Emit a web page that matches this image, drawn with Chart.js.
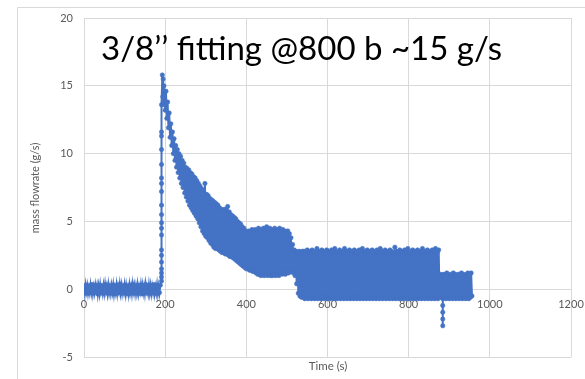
<!DOCTYPE html>
<html>
<head>
<meta charset="utf-8">
<script src="https://cdn.jsdelivr.net/npm/chart.js@4/dist/chart.umd.min.js"></script>
<style>
html,body{margin:0;padding:0;background:#fff;}
#wrap{position:relative;width:585px;height:379px;}
</style>
</head>
<body>
<div id="wrap"><canvas id="c" width="585" height="379"></canvas></div>
<script>
const chartTitle = "3/8\u2019\u2019 fitting @800 b ~15 g/s";
const xTitle = "Time (s)";
const yTitle = "mass flowrate (g/s)";
const xTicks = [0, 200, 400, 600, 800, 1000, 1200];
const yTicks = [-5, 0, 5, 10, 15, 20];

// time (s)
const timeValues = [
  0,2,4,6,8,10,12,14,16,18,
  20,22,24,26,28,30,32,34,36,38,
  40,42,44,46,48,50,52,54,56,58,
  60,62,64,66,68,70,72,74,76,78,
  80,82,84,86,88,90,92,94,96,98,
  100,102,104,106,108,110,112,114,116,118,
  120,122,124,126,128,130,132,134,136,138,
  140,142,144,146,148,150,152,154,156,158,
  160,162,164,166,168,170,172,174,176,178,
  180,182,184,186,188,
  191,191,191,191,191,191,191,191,191,191,191,191,191,191,191,191,191,191,191,191,
  193,194,195,196,197,198,199,200,
  202,204,206,208,210,212,214,216,218,220,
  222,224,226,228,230,232,234,236,238,240,
  242,244,246,248,250,252,254,256,258,260,
  262,264,266,268,270,272,274,276,278,280,
  282,284,286,288,290,292,294,296,298,300,
  302,304,306,308,310,312,314,316,318,320,
  322,324,326,328,330,332,334,336,338,340,
  342,344,346,348,350,352,354,356,358,360,
  362,364,366,368,370,372,374,376,378,380,
  382,384,386,388,390,392,394,396,398,400,
  402,404,406,408,410,412,414,416,418,420,
  422,424,426,428,430,432,434,436,438,440,
  442,444,446,448,450,452,454,456,458,460,
  462,464,466,468,470,472,474,476,478,480,
  482,484,486,488,490,492,494,496,498,500,
  502,504,506,508,510,512,514,516,518,520,
  522,524,526,528,530,532,534,536,538,540,
  542,544,546,548,550,552,554,556,558,560,
  562,564,566,568,570,572,574,576,578,580,
  582,584,586,588,590,592,594,596,598,600,
  602,604,606,608,610,612,614,616,618,620,
  622,624,626,628,630,632,634,636,638,640,
  642,644,646,648,650,652,654,656,658,660,
  662,664,666,668,670,672,674,676,678,680,
  682,684,686,688,690,692,694,696,698,700,
  702,704,706,708,710,712,714,716,718,720,
  722,724,726,728,730,732,734,736,738,740,
  742,744,746,748,750,752,754,756,758,760,
  762,764,766,768,770,772,774,776,778,780,
  782,784,786,788,790,792,794,796,798,800,
  802,804,806,808,810,812,814,816,818,820,
  822,824,826,828,830,832,834,836,838,840,
  842,844,846,848,850,852,854,856,858,860,
  862,864,866,868,870,872,874,876,878,880,
  882,884,884,884,884,884,884,
  886,888,890,892,894,896,898,900,902,904,
  906,908,910,912,914,916,918,920,922,924,
  926,928,930,932,934,936,938,940,942,944,
  946,948,950,952,954,956
];

// mass flowrate (g/s)
const flowValues = [
  0.2,-0.3,0.3,-0.15,0.25,-0.3,0.1,-0.25,0.3,-0.2,
  0.35,-0.3,0.15,-0.25,0.3,-0.1,0.25,-0.35,0.2,-0.3,
  0.3,-0.2,0.1,-0.3,0.25,-0.25,0.35,-0.15,0.2,-0.3,
  0.3,-0.25,0.15,-0.3,0.25,-0.2,0.3,-0.35,0.1,-0.25,
  0.3,-0.3,0.2,-0.15,0.35,-0.25,0.25,-0.3,0.15,-0.2,
  0.3,-0.3,0.25,-0.25,0.1,-0.35,0.3,-0.2,0.2,-0.3,
  0.35,-0.15,0.25,-0.3,0.2,-0.25,0.3,-0.3,0.15,-0.2,
  0.3,-0.35,0.25,-0.25,0.2,-0.3,0.35,-0.15,0.1,-0.3,
  0.3,-0.25,0.25,-0.3,0.2,-0.2,0.35,-0.3,0.15,-0.25,
  0.3,-0.3,0.2,-0.25,0.3,
  0.6,0.9,1.2,1.5,2.0,2.5,2.9,4.0,4.5,4.9,5.5,6.2,7.2,7.8,8.2,9.2,10.3,11.3,11.6,13.6,
  15.8,14.2,15.5,13.9,15.0,13.6,14.6,13.2,
  14.6,12.6,13.8,11.9,13.0,11.2,12.2,10.6,11.6,10.0,
  11.1,9.5,10.6,9.0,10.3,8.6,10.0,8.2,9.8,7.8,
  9.5,7.5,9.3,7.1,9.0,6.8,8.9,6.5,8.8,6.2,
  8.6,6.0,8.5,5.8,8.3,5.6,8.2,5.4,8.0,5.2,
  7.8,4.9,7.6,4.6,7.4,4.3,7.3,4.1,7.8,3.9,
  7.0,3.8,6.9,3.6,6.7,3.4,6.6,3.3,6.5,3.1,
  6.4,3.0,6.3,3.0,6.2,2.9,6.0,2.8,5.9,2.7,
  5.8,2.7,5.9,2.6,5.8,2.6,6.1,2.5,5.7,2.4,
  5.5,2.4,5.4,2.3,5.3,2.2,5.2,2.1,5.0,2.0,
  4.9,1.9,4.8,1.8,4.6,1.7,4.5,1.6,4.3,1.5,
  4.2,1.5,4.3,1.4,4.2,1.4,4.4,1.3,4.3,1.3,
  4.4,1.2,4.3,1.1,4.5,1.1,4.4,1.0,4.3,1.2,
  4.5,1.0,4.4,1.1,4.6,1.0,4.4,1.1,4.5,1.0,
  4.3,1.0,4.4,1.1,4.5,1.0,4.3,1.1,4.4,1.0,
  4.5,1.2,4.3,1.1,4.4,1.2,4.3,1.1,4.2,1.2,
  4.3,1.2,4.1,1.3,3.8,1.3,3.3,1.2,2.9,1.0,
  2.8,0.4,2.7,-0.3,2.8,-0.5,2.7,-0.6,2.8,-0.6,
  2.8,-0.7,2.7,-0.6,2.9,-0.7,2.8,-0.5,2.7,-0.7,
  2.9,-0.6,2.8,-0.7,2.7,-0.6,3.0,-0.7,2.8,-0.5,
  2.7,-0.7,2.9,-0.6,2.8,-0.7,2.7,-0.6,2.9,-0.7,
  2.8,-0.5,2.7,-0.7,2.9,-0.6,2.8,-0.7,3.0,-0.6,
  2.7,-0.7,2.8,-0.6,2.9,-0.7,2.7,-0.5,2.8,-0.7,
  3.0,-0.6,2.8,-0.7,2.7,-0.6,2.9,-0.7,2.8,-0.6,
  2.7,-0.7,2.9,-0.5,2.8,-0.7,2.7,-0.6,2.9,-0.7,
  2.8,-0.6,3.0,-0.7,2.7,-0.6,2.8,-0.7,2.9,-0.5,
  2.7,-0.7,2.8,-0.6,2.9,-0.7,2.7,-0.6,2.8,-0.7,
  2.9,-0.6,2.7,-0.7,3.0,-0.5,2.8,-0.7,2.7,-0.6,
  2.9,-0.7,2.8,-0.6,2.7,-0.7,2.9,-0.6,2.8,-0.7,
  2.7,-0.5,3.1,-0.7,2.8,-0.6,2.7,-0.7,2.9,-0.6,
  2.8,-0.7,2.7,-0.6,2.9,-0.7,2.8,-0.5,3.0,-0.7,
  2.7,-0.6,2.8,-0.7,2.9,-0.6,2.7,-0.7,2.8,-0.6,
  2.9,-0.7,2.7,-0.5,2.8,-0.7,3.0,-0.6,2.8,-0.7,
  2.7,-0.6,2.9,-0.7,2.8,-0.6,2.7,-0.7,2.9,-0.5,
  2.8,-0.7,3.0,-0.6,2.7,-0.7,2.9,-0.6,1.1,-0.6,
  1.0,-0.7,-1.2,-1.7,-2.2,-2.7,-0.6,
  1.1,-0.6,1.0,-0.7,1.2,-0.6,1.0,-0.7,1.1,-0.6,
  1.0,-0.7,1.2,-0.6,1.1,-0.7,1.0,-0.6,1.1,-0.7,
  1.0,-0.6,1.2,-0.7,1.1,-0.6,1.0,-0.7,1.1,-0.6,
  1.2,-0.7,1.0,-0.6,1.2,-0.5
];

const points = timeValues.map((t, i) => ({x: t, y: flowValues[i]}));

const FONT = "Lato, 'Open Sans', sans-serif";
const GRID = '#d9d9d9';
const TXT = '#595959';
const BLUE = '#4472C4';

const decor = {
  id: 'decor',
  beforeDraw(chart) {
    const c = chart.ctx;
    c.save();
    c.fillStyle = '#fff';
    c.fillRect(0, 0, chart.width, chart.height);
    c.strokeStyle = GRID;
    c.lineWidth = 1;
    c.beginPath();
    c.moveTo(17.5, chart.height);
    c.lineTo(17.5, 7.5);
    c.lineTo(chart.width, 7.5);
    c.stroke();
    c.restore();
  },
  afterDraw(chart) {
    const c = chart.ctx;
    const a = chart.chartArea;
    c.save();
    c.font = "32px " + FONT;
    c.fillStyle = '#000';
    c.textBaseline = 'alphabetic';
    c.textAlign = 'left';
    const w = c.measureText(chartTitle).width;
    const target = 401;
    c.translate(a.left + 17, 60);
    c.scale(target / w, 1);
    c.fillText(chartTitle, 0, 0);
    c.restore();

    c.save();
    c.fillStyle = TXT;
    c.font = "11.5px " + FONT;
    c.textAlign = 'center';
    c.textBaseline = 'middle';
    c.fillText(xTitle, 328, 366);
    c.translate(35, 188);
    c.rotate(-Math.PI / 2);
    c.font = "11px " + FONT;
    c.fillText(yTitle, 0, 0);
    c.restore();
  }
};

new Chart(document.getElementById('c'), {
  type: 'line',
  data: {
    datasets: [{
      data: points,
      borderColor: BLUE,
      backgroundColor: BLUE,
      pointBackgroundColor: BLUE,
      pointBorderColor: BLUE,
      pointRadius: 2.2,
      pointBorderWidth: 0.5,
      borderWidth: 2,
      borderDash: [5000, 0],
      tension: 0,
      fill: false
    }]
  },
  options: {
    responsive: false,
    animation: false,
    devicePixelRatio: 1,
    layout: {padding: {left: 0, top: 18, right: 14, bottom: 22}},
    plugins: {legend: {display: false}, tooltip: {enabled: false}, title: {display: false}},
    scales: {
      x: {
        type: 'linear',
        position: {y: 0},
        min: xTicks[0],
        max: xTicks[xTicks.length - 1],
        afterBuildTicks: s => { s.ticks = xTicks.map(v => ({value: v})); },
        afterFit: s => { s.paddingLeft = 0; s.paddingRight = 0; },
        grid: {color: GRID, drawTicks: false, lineWidth: 1},
        border: {display: false},
        ticks: {color: TXT, font: {family: FONT, size: 11}, padding: 9, maxRotation: 0,
                callback: v => String(v)}
      },
      y: {
        type: 'linear',
        min: yTicks[0],
        max: yTicks[yTicks.length - 1],
        afterBuildTicks: s => { s.ticks = yTicks.map(v => ({value: v})); },
        afterFit: s => { s.width = 84; s.paddingTop = 0; s.paddingBottom = 0; },
        grid: {color: GRID, drawTicks: false, lineWidth: 1},
        border: {display: false},
        ticks: {color: TXT, font: {family: FONT, size: 11}, padding: 11,
                callback: v => String(v)}
      }
    }
  },
  plugins: [decor]
});
</script>
</body>
</html>
